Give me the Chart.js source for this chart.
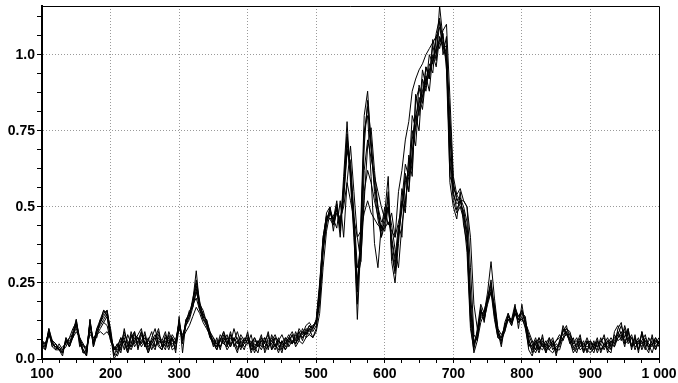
<!DOCTYPE html>
<html>
<head>
<meta charset="utf-8">
<script src="https://cdn.jsdelivr.net/npm/chart.js@4.4.1/dist/chart.umd.min.js"></script>
<style>
  body { margin: 0; background: #fff; }
</style>
</head>
<body>
<canvas id="myChart" width="678" height="383"></canvas>
<script>
const ctx = document.getElementById('myChart');

// wavelength axis (one sample every 5 units)
const wavelengths = [
  100,105,110,115,120,125,130,135,140,145,150,155,160,165,170,175,180,185,190,195,
  200,205,210,215,220,225,230,235,240,245,250,255,260,265,270,275,280,285,290,295,
  300,305,310,315,320,325,330,335,340,345,350,355,360,365,370,375,380,385,390,395,
  400,405,410,415,420,425,430,435,440,445,450,455,460,465,470,475,480,485,490,495,
  500,505,510,515,520,525,530,535,540,545,550,555,560,565,570,575,580,585,590,595,
  600,605,610,615,620,625,630,635,640,645,650,655,660,665,670,675,680,685,690,695,
  700,705,710,715,720,725,730,735,740,745,750,755,760,765,770,775,780,785,790,795,
  800,805,810,815,820,825,830,835,840,845,850,855,860,865,870,875,880,885,890,895,
  900,905,910,915,920,925,930,935,940,945,950,955,960,965,970,975,980,985,990,995,1000
];

const series1 = [
  0.06,0.04,0.10,0.05,0.04,0.04,0.02,0.06,0.05,0.09,0.13,0.05,0.03,0.01,0.13,0.05,0.10,0.12,0.15,0.16,
  0.09,0.01,0.04,0.07,0.03,0.08,0.05,0.09,0.04,0.06,0.08,0.03,0.07,0.10,0.05,0.06,0.04,0.09,0.06,0.05,
  0.12,0.06,0.12,0.15,0.19,0.29,0.17,0.15,0.12,0.08,0.04,0.07,0.03,0.08,0.05,0.09,0.04,0.06,0.03,0.07,
  0.05,0.08,0.03,0.06,0.04,0.07,0.03,0.08,0.05,0.03,0.06,0.04,0.07,0.05,0.09,0.06,0.10,0.08,0.11,0.09,
  0.11,0.18,0.35,0.45,0.49,0.46,0.52,0.42,0.60,0.78,0.58,0.40,0.18,0.45,0.80,0.88,0.70,0.55,0.46,0.40,
  0.44,0.55,0.35,0.28,0.40,0.52,0.64,0.60,0.80,0.76,0.90,0.86,0.96,0.92,1.05,1.00,1.16,1.05,0.98,0.65,
  0.52,0.48,0.50,0.46,0.35,0.10,0.03,0.10,0.18,0.15,0.22,0.32,0.20,0.10,0.05,0.12,0.15,0.12,0.17,0.14,
  0.16,0.13,0.07,0.02,0.06,0.03,0.08,0.02,0.05,0.07,0.02,0.06,0.09,0.11,0.06,0.03,0.05,0.08,0.02,0.06,
  0.03,0.06,0.02,0.05,0.08,0.03,0.06,0.04,0.10,0.12,0.05,0.09,0.04,0.07,0.03,0.06,0.08,0.03,0.05,0.07,0.04
];
const series2 = [
  0.04,0.03,0.08,0.06,0.05,0.03,0.04,0.05,0.07,0.08,0.10,0.07,0.05,0.03,0.09,0.07,0.07,0.13,0.12,0.11,
  0.06,0.04,0.02,0.05,0.09,0.05,0.03,0.06,0.08,0.10,0.04,0.06,0.05,0.03,0.08,0.06,0.09,0.04,0.07,0.03,
  0.10,0.08,0.11,0.14,0.18,0.20,0.16,0.13,0.11,0.07,0.06,0.03,0.07,0.05,0.04,0.08,0.06,0.09,0.05,0.03,
  0.07,0.03,0.06,0.05,0.08,0.02,0.05,0.07,0.04,0.06,0.08,0.05,0.07,0.09,0.06,0.10,0.08,0.11,0.12,0.10,
  0.13,0.25,0.40,0.47,0.46,0.44,0.48,0.45,0.52,0.68,0.65,0.48,0.30,0.35,0.62,0.72,0.66,0.60,0.55,0.50,
  0.46,0.50,0.40,0.33,0.44,0.40,0.60,0.55,0.75,0.70,0.86,0.82,0.93,0.88,1.00,0.96,1.06,1.02,1.03,0.80,
  0.58,0.52,0.53,0.50,0.45,0.22,0.06,0.07,0.14,0.13,0.18,0.22,0.13,0.07,0.07,0.09,0.13,0.11,0.15,0.12,
  0.14,0.10,0.04,0.06,0.03,0.07,0.04,0.06,0.03,0.05,0.06,0.08,0.06,0.09,0.05,0.07,0.03,0.04,0.06,0.02,
  0.06,0.04,0.03,0.07,0.04,0.06,0.03,0.08,0.06,0.07,0.10,0.05,0.07,0.03,0.06,0.04,0.07,0.05,0.02,0.06,0.05
];
const series3 = [
  0.05,0.05,0.09,0.04,0.03,0.03,0.01,0.07,0.04,0.07,0.12,0.06,0.02,0.03,0.12,0.04,0.09,0.11,0.13,0.15,
  0.08,0.00,0.02,0.06,0.07,0.02,0.08,0.04,0.06,0.09,0.05,0.02,0.06,0.07,0.04,0.03,0.08,0.05,0.07,0.02,
  0.14,0.02,0.12,0.16,0.17,0.22,0.18,0.14,0.13,0.09,0.05,0.03,0.06,0.09,0.04,0.07,0.05,0.02,0.07,0.05,
  0.09,0.03,0.04,0.02,0.07,0.05,0.09,0.03,0.05,0.02,0.06,0.03,0.05,0.08,0.04,0.06,0.05,0.07,0.10,0.07,
  0.10,0.20,0.36,0.44,0.50,0.42,0.50,0.40,0.56,0.74,0.60,0.42,0.13,0.38,0.70,0.85,0.72,0.58,0.50,0.40,
  0.48,0.60,0.32,0.25,0.38,0.52,0.48,0.67,0.62,0.87,0.80,0.95,0.90,1.00,0.97,1.07,1.12,1.00,1.06,0.58,
  0.50,0.46,0.55,0.44,0.38,0.12,0.02,0.06,0.17,0.12,0.20,0.25,0.16,0.09,0.04,0.11,0.14,0.13,0.18,0.10,
  0.18,0.11,0.03,0.01,0.05,0.02,0.06,0.04,0.03,0.02,0.04,0.05,0.11,0.08,0.06,0.02,0.04,0.07,0.03,0.03,
  0.02,0.04,0.07,0.02,0.05,0.03,0.02,0.09,0.11,0.08,0.04,0.10,0.03,0.08,0.02,0.09,0.04,0.02,0.08,0.03,0.06
];
const series4 = [
  0.06,0.05,0.08,0.06,0.05,0.03,0.03,0.06,0.06,0.07,0.09,0.07,0.04,0.04,0.08,0.07,0.08,0.09,0.08,0.09,
  0.07,0.04,0.03,0.05,0.06,0.05,0.04,0.06,0.07,0.05,0.07,0.05,0.06,0.04,0.06,0.05,0.07,0.06,0.05,0.06,
  0.10,0.07,0.09,0.11,0.14,0.17,0.15,0.12,0.10,0.08,0.07,0.05,0.06,0.05,0.07,0.05,0.06,0.07,0.04,0.06,
  0.06,0.05,0.04,0.06,0.05,0.04,0.06,0.05,0.07,0.04,0.05,0.07,0.06,0.05,0.08,0.07,0.09,0.08,0.10,0.11,
  0.12,0.24,0.40,0.47,0.46,0.47,0.49,0.46,0.50,0.58,0.52,0.46,0.40,0.42,0.48,0.52,0.48,0.46,0.44,0.43,
  0.43,0.45,0.42,0.40,0.45,0.50,0.58,0.62,0.72,0.80,0.84,0.88,0.92,0.95,0.98,1.02,1.05,1.03,0.98,0.75,
  0.56,0.54,0.52,0.52,0.50,0.40,0.18,0.10,0.14,0.16,0.20,0.22,0.18,0.10,0.08,0.10,0.13,0.12,0.15,0.13,
  0.13,0.12,0.09,0.06,0.05,0.07,0.05,0.04,0.06,0.05,0.03,0.05,0.07,0.08,0.08,0.06,0.04,0.05,0.05,0.04,
  0.05,0.05,0.04,0.06,0.05,0.04,0.06,0.05,0.07,0.08,0.06,0.07,0.07,0.05,0.06,0.05,0.06,0.04,0.05,0.06,0.05
];
const series5 = [
  0.05,0.03,0.10,0.06,0.03,0.05,0.03,0.04,0.07,0.10,0.12,0.04,0.05,0.02,0.12,0.06,0.09,0.12,0.16,0.14,
  0.07,0.03,0.05,0.03,0.10,0.04,0.07,0.09,0.03,0.08,0.05,0.06,0.09,0.04,0.07,0.05,0.03,0.08,0.04,0.06,
  0.12,0.05,0.13,0.14,0.20,0.25,0.18,0.16,0.12,0.07,0.05,0.04,0.08,0.06,0.03,0.05,0.10,0.06,0.04,0.05,
  0.06,0.05,0.07,0.04,0.06,0.03,0.07,0.06,0.04,0.07,0.03,0.06,0.08,0.05,0.07,0.09,0.06,0.10,0.09,0.11,
  0.12,0.22,0.38,0.48,0.50,0.45,0.51,0.44,0.57,0.73,0.63,0.44,0.22,0.42,0.75,0.80,0.60,0.38,0.30,0.44,
  0.42,0.50,0.44,0.36,0.30,0.44,0.52,0.60,0.66,0.76,0.82,0.86,0.90,0.94,0.98,1.00,1.04,1.08,1.10,0.86,
  0.60,0.54,0.56,0.52,0.50,0.30,0.08,0.06,0.12,0.15,0.19,0.22,0.17,0.09,0.07,0.10,0.15,0.11,0.16,0.14,
  0.15,0.14,0.05,0.04,0.07,0.03,0.05,0.02,0.07,0.03,0.05,0.04,0.10,0.08,0.07,0.04,0.02,0.06,0.04,0.07,
  0.04,0.02,0.06,0.03,0.05,0.07,0.04,0.06,0.09,0.06,0.11,0.07,0.04,0.05,0.07,0.03,0.06,0.05,0.04,0.07,0.05
];
const series6 = [
  0.04,0.04,0.08,0.05,0.04,0.03,0.02,0.06,0.04,0.08,0.11,0.06,0.03,0.01,0.11,0.05,0.10,0.13,0.16,0.15,
  0.10,0.02,0.01,0.04,0.06,0.03,0.09,0.05,0.07,0.04,0.06,0.02,0.05,0.07,0.10,0.04,0.05,0.07,0.03,0.04,
  0.13,0.06,0.11,0.13,0.17,0.23,0.16,0.14,0.13,0.08,0.06,0.05,0.04,0.06,0.08,0.04,0.07,0.03,0.06,0.04,
  0.05,0.06,0.02,0.05,0.07,0.05,0.04,0.06,0.08,0.05,0.02,0.07,0.04,0.06,0.05,0.08,0.07,0.09,0.08,0.07,
  0.09,0.15,0.30,0.42,0.48,0.46,0.43,0.52,0.40,0.58,0.70,0.55,0.40,0.32,0.52,0.70,0.76,0.62,0.50,0.45,
  0.47,0.50,0.39,0.31,0.41,0.49,0.61,0.55,0.68,0.80,0.75,0.92,0.88,0.97,0.94,1.06,1.09,1.03,0.99,0.74,
  0.55,0.49,0.52,0.47,0.41,0.16,0.05,0.09,0.16,0.13,0.19,0.23,0.14,0.07,0.06,0.09,0.14,0.12,0.17,0.12,
  0.13,0.11,0.06,0.04,0.02,0.05,0.07,0.03,0.04,0.06,0.03,0.03,0.07,0.10,0.09,0.05,0.06,0.03,0.04,0.05,
  0.06,0.03,0.05,0.05,0.03,0.06,0.05,0.04,0.07,0.09,0.05,0.06,0.08,0.04,0.05,0.06,0.03,0.07,0.05,0.03,0.06
];
const series7 = [
  0.06,0.05,0.09,0.04,0.05,0.03,0.02,0.07,0.05,0.07,0.13,0.06,0.03,0.02,0.13,0.04,0.08,0.10,0.12,0.14,
  0.06,0.03,0.04,0.07,0.05,0.02,0.05,0.08,0.07,0.05,0.09,0.04,0.06,0.08,0.05,0.03,0.07,0.05,0.08,0.06,
  0.12,0.07,0.12,0.14,0.19,0.24,0.17,0.13,0.12,0.09,0.07,0.04,0.06,0.09,0.06,0.04,0.07,0.05,0.08,0.06,
  0.08,0.04,0.07,0.05,0.03,0.06,0.08,0.03,0.07,0.06,0.05,0.03,0.06,0.08,0.05,0.07,0.09,0.07,0.08,0.10,
  0.13,0.23,0.39,0.46,0.48,0.46,0.49,0.45,0.54,0.69,0.62,0.45,0.26,0.32,0.55,0.62,0.58,0.52,0.47,0.43,
  0.50,0.44,0.48,0.40,0.55,0.62,0.72,0.78,0.88,0.92,0.95,0.97,1.00,1.02,1.04,1.06,1.02,1.07,0.95,0.60,
  0.57,0.53,0.50,0.49,0.42,0.18,0.05,0.07,0.15,0.15,0.20,0.26,0.16,0.08,0.07,0.11,0.13,0.13,0.15,0.13,
  0.16,0.12,0.08,0.05,0.03,0.06,0.04,0.05,0.07,0.04,0.06,0.07,0.08,0.09,0.06,0.05,0.07,0.04,0.05,0.03,
  0.05,0.04,0.06,0.03,0.04,0.05,0.07,0.05,0.08,0.07,0.09,0.06,0.05,0.06,0.05,0.08,0.04,0.06,0.07,0.04,0.06
];
const series8 = [
  0.05,0.04,0.09,0.05,0.04,0.03,0.02,0.06,0.04,0.08,0.12,0.07,0.02,0.02,0.12,0.05,0.09,0.12,0.14,0.16,
  0.08,0.03,0.05,0.02,0.08,0.06,0.04,0.07,0.05,0.09,0.04,0.07,0.03,0.06,0.09,0.04,0.06,0.03,0.07,0.05,
  0.11,0.06,0.13,0.15,0.18,0.26,0.19,0.14,0.11,0.08,0.05,0.06,0.04,0.07,0.05,0.08,0.05,0.04,0.05,0.06,
  0.07,0.02,0.05,0.04,0.06,0.07,0.04,0.05,0.03,0.06,0.04,0.05,0.07,0.06,0.05,0.09,0.07,0.09,0.11,0.10,
  0.12,0.20,0.36,0.46,0.49,0.44,0.50,0.43,0.56,0.71,0.61,0.44,0.24,0.40,0.74,0.83,0.69,0.57,0.49,0.42,
  0.45,0.53,0.36,0.29,0.42,0.56,0.50,0.66,0.60,0.85,0.89,0.84,0.96,0.92,1.03,0.98,1.11,1.05,1.00,0.68,
  0.54,0.51,0.52,0.48,0.39,0.14,0.04,0.08,0.16,0.14,0.20,0.24,0.15,0.08,0.06,0.10,0.14,0.12,0.16,0.13,
  0.15,0.12,0.05,0.03,0.06,0.04,0.03,0.05,0.04,0.06,0.01,0.06,0.09,0.10,0.08,0.04,0.05,0.06,0.02,0.06,
  0.03,0.05,0.04,0.06,0.07,0.02,0.05,0.07,0.08,0.11,0.07,0.10,0.04,0.07,0.03,0.09,0.05,0.04,0.06,0.05,0.07
];

const allSeries = [series1, series2, series3, series4, series5, series6, series7, series8];

// major tick labels
const yLabels = { 0: '0.0', 0.25: '0.25', 0.5: '0.5', 0.75: '0.75', 1: '1.0' };
const xLabels = { 100: '100', 200: '200', 300: '300', 400: '400', 500: '500',
                  600: '600', 700: '700', 800: '800', 900: '900', 1000: '1 000' };

// thin frame on top and right of the plot area
const framePlugin = {
  id: 'frame',
  afterDatasetsDraw(chart) {
    const a = chart.chartArea;
    const c = chart.ctx;
    c.save();
    c.strokeStyle = '#000';
    c.lineWidth = 1;
    c.beginPath();
    c.moveTo(a.left, a.top + 0.5);
    c.lineTo(a.right + 0.5, a.top + 0.5);
    c.lineTo(a.right + 0.5, a.bottom);
    c.stroke();
    c.restore();
  }
};

const tickFont = { family: 'Liberation Sans', size: 14, weight: 'bold' };

new Chart(ctx, {
  type: 'line',
  data: {
    datasets: allSeries.map(function(s) {
      return {
        data: s.map(function(v, i) { return { x: wavelengths[i], y: v }; }),
        borderColor: '#000',
        borderWidth: 1,
        pointRadius: 0,
        tension: 0,
        fill: false
      };
    })
  },
  plugins: [framePlugin],
  options: {
    responsive: false,
    animation: false,
    layout: { padding: { top: 6, right: 19, left: 0, bottom: 0 } },
    plugins: { legend: { display: false }, tooltip: { enabled: false } },
    scales: {
      x: {
        type: 'linear',
        min: 100,
        max: 1000,
        afterFit: function(scale) {
          scale.height = 24;
          scale.paddingLeft = 0;
          scale.paddingRight = 0;
        },
        ticks: {
          stepSize: 25,
          autoSkip: false,
          maxRotation: 0,
          padding: 3,
          color: '#000',
          font: tickFont,
          callback: function(v) { return xLabels[v] !== undefined ? xLabels[v] : ''; }
        },
        grid: {
          color: function(c) {
            const v = c.tick && c.tick.value;
            return (v % 100 === 0 && v > 100 && v < 1000) ? '#9a9a9a' : 'rgba(0,0,0,0)';
          },
          tickColor: '#000',
          tickLength: 4,
          lineWidth: 1
        },
        border: { color: '#000', width: 2, dash: [1, 2] }
      },
      y: {
        type: 'linear',
        min: 0,
        max: 1.16,
        afterFit: function(scale) {
          scale.width = 42;
          scale.paddingTop = 0;
          scale.paddingBottom = 0;
        },
        ticks: {
          stepSize: 0.0625,
          includeBounds: false,
          autoSkip: false,
          padding: 2,
          color: '#000',
          font: tickFont,
          callback: function(v) { return yLabels[v] !== undefined ? yLabels[v] : ''; }
        },
        grid: {
          color: function(c) {
            const v = c.tick && c.tick.value;
            return (v > 0 && Math.abs(v / 0.25 - Math.round(v / 0.25)) < 1e-6) ? '#9a9a9a' : 'rgba(0,0,0,0)';
          },
          tickColor: '#000',
          tickLength: 5,
          lineWidth: 1
        },
        border: { color: '#000', width: 2, dash: [1, 2] }
      }
    }
  }
});
</script>
</body>
</html>
